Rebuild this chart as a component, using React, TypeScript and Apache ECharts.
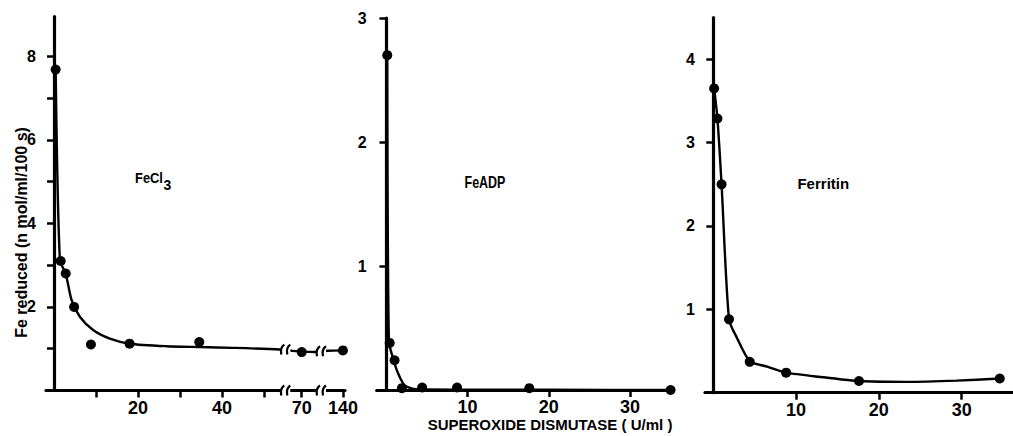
import React, { useEffect, useRef } from 'react';
import * as echarts from 'echarts';

const FONT = '"Liberation Sans", Arial, Helvetica, sans-serif';

// ---- Panel 1: FeCl3 (x axis broken after 50: 70 and 140 drawn compressed) ----
const fecl3X = [0.4, 1.6, 2.8, 4.8, 8.8, 18, 34.6, 70, 140];
const fecl3Y = [7.68, 3.1, 2.8, 2.0, 1.1, 1.12, 1.16, 0.92, 0.96];
const fecl3CurveX = [0.4, 1.4, 2.8, 4.2, 6.2, 9.4, 13.3, 18, 26.8, 34.8, 42.7, 53.8, 62.3, 70, 80, 128, 140];
const fecl3CurveY = [7.68, 3.13, 2.79, 2.16, 1.76, 1.44, 1.24, 1.12, 1.06, 1.04, 1.02, 0.98, 0.95, 0.93, 0.92, 0.95, 0.96];
const fecl3TickValues = [10, 20, 30, 40, 50, 70, 140];
const fecl3LabelValues = [20, 40, 70, 140];
const fecl3YTicks = [1, 2, 3, 4, 5, 6, 7, 8];
const fecl3YLabels = [2, 4, 6, 8];
const fecl3BreakPositions = [55.2, 63.7]; // axis positions of the "//" marks
const fecl3BreakLineY = [0.98, 0.94];

// ---- Panel 2: FeADP ----
const adpX = [0.1, 0.4, 1.0, 1.9, 4.4, 8.7, 17.6, 35];
const adpY = [2.7, 0.38, 0.24, 0.015, 0.02, 0.02, 0.015, 0.0];
const adpCurveX = [0.1, 0.3, 0.8, 1.2, 1.6, 2.2, 2.8, 3.7, 10, 20, 35];
const adpCurveY = [2.7, 0.39, 0.26, 0.175, 0.11, 0.04, 0.02, 0.006, 0.003, 0.002, 0.0];
const adpXTicks = [10, 20, 30];
const adpYTicks = [1, 2, 3];

// ---- Panel 3: Ferritin ----
const ferX = [0.1, 0.5, 1.0, 1.9, 4.4, 8.8, 17.6, 34.6];
const ferY = [3.65, 3.29, 2.5, 0.88, 0.37, 0.24, 0.14, 0.17];
const ferCurveX = [0.1, 0.5, 1.0, 1.9, 2.8, 4.4, 6.6, 8.8, 13.3, 17.6, 23.4, 29.4, 34.6];
const ferCurveY = [3.65, 3.29, 2.5, 0.88, 0.67, 0.38, 0.31, 0.24, 0.185, 0.14, 0.13, 0.145, 0.17];
const ferXTicks = [10, 20, 30];
const ferYTicks = [1, 2, 3, 4];

const yAxisName = 'Fe reduced (n mol/ml/100 s)';
const xAxisName = 'SUPEROXIDE DISMUTASE ( U/ml )';

// broken-axis mapping for panel 1
const mapBroken = (v: number) =>
  v <= 55 ? v : v <= 100 ? 59 + (v - 70) * 0.3 : 68.8 + (v - 140) * 0.3;

const zip = (xs: number[], ys: number[], f: (v: number) => number = (v) => v) =>
  xs.map((x, i) => [f(x), ys[i]]);

const BLACK = '#000000';

function xAx(gridIndex: number, min: number, max: number, ticks: number[], labels: number[], fmt?: (v: number) => string) {
  return {
    type: 'value',
    gridIndex,
    min,
    max,
    splitLine: { show: false },
    axisLine: { show: true, onZero: true, lineStyle: { color: BLACK, width: 3.2 } },
    axisTick: { show: true, length: 7, customValues: ticks, lineStyle: { color: BLACK, width: 2.5 } },
    axisLabel: {
      show: true,
      customValues: labels,
      formatter: fmt || ((v: number) => String(v)),
      margin: 8,
      color: BLACK,
      fontSize: 18,
      fontWeight: 'bold',
      fontFamily: FONT,
    },
  };
}

function yAx(gridIndex: number, max: number, ticks: number[], labels: number[]) {
  return {
    type: 'value',
    gridIndex,
    min: 0,
    max,
    splitLine: { show: false },
    axisLine: { show: true, onZero: true, lineStyle: { color: BLACK, width: 3.2 } },
    axisTick: { show: true, length: 7, customValues: ticks, lineStyle: { color: BLACK, width: 2.5 } },
    axisLabel: {
      show: true,
      customValues: labels,
      formatter: (v: number) => String(v),
      margin: 10,
      color: BLACK,
      fontSize: 16,
      fontWeight: 'bold',
      fontFamily: FONT,
    },
  };
}

function curve(idx: number, data: number[][]) {
  return {
    type: 'line',
    xAxisIndex: idx,
    yAxisIndex: idx,
    data,
    smooth: 0.25,
    symbol: 'none',
    lineStyle: { color: BLACK, width: 2.4, opacity: 1 },
    silent: true,
    z: 3,
  };
}

function dots(idx: number, data: number[][]) {
  return {
    type: 'scatter',
    xAxisIndex: idx,
    yAxisIndex: idx,
    data,
    symbol: 'circle',
    symbolSize: 10,
    itemStyle: { color: BLACK, opacity: 1 },
    silent: true,
    z: 4,
  };
}

const renderBreak = (_params: any, api: any) => {
  const p = api.coord([api.value(0), api.value(1)]);
  const cx = p[0];
  const cy = p[1];
  const mk = (dx: number) => ({
    type: 'bezierCurve',
    shape: {
      x1: cx + dx - 1.5,
      y1: cy + 5,
      x2: cx + dx + 1.5,
      y2: cy - 5,
      cpx1: cx + dx - 3,
      cpy1: cy - 2,
    },
    style: { stroke: BLACK, lineWidth: 2.2, fill: 'none' },
  });
  return {
    type: 'group',
    children: [
      { type: 'rect', shape: { x: cx - 4.5, y: cy - 3.5, width: 9, height: 7 }, style: { fill: '#fff' } },
      mk(-3),
      mk(3),
    ],
  };
};

function txt(text: string, x: number, y: number, size: number, extra: any = {}) {
  return {
    type: 'text',
    x,
    y,
    silent: true,
    ...extra,
    style: {
      text,
      fill: BLACK,
      fontSize: size,
      fontWeight: 'bold',
      fontFamily: FONT,
      align: 'center',
      verticalAlign: 'middle',
      textAlign: 'center',
      textVerticalAlign: 'middle',
    },
  };
}

export default function App() {
  const ref = useRef<HTMLDivElement>(null);
  useEffect(() => {
    if (!ref.current) return;
    const chart = echarts.init(ref.current, null, { renderer: 'svg' });
    const brokenLabel = (v: number) => {
      const hit = fecl3LabelValues.find((l) => Math.abs(mapBroken(l) - v) < 0.01);
      return hit !== undefined ? String(hit) : '';
    };
    const breakData: number[][] = [];
    fecl3BreakPositions.forEach((p, i) => {
      breakData.push([p, 0]);
      breakData.push([p, fecl3BreakLineY[i]]);
    });
    const option: any = {
      animation: false,
      backgroundColor: '#fff',
      grid: [
        { left: 46, top: 16.5, width: 299, height: 374 },
        { left: 376.7, top: 18, width: 296.3, height: 372 },
        { left: 705, top: 17.6, width: 308, height: 375.1 },
      ],
      xAxis: [
        xAx(0, -1.9, 69.3, fecl3TickValues.map(mapBroken), fecl3LabelValues.map(mapBroken), brokenLabel),
        xAx(1, -1.2, 35.3, adpXTicks, adpXTicks),
        xAx(2, -1.0, 36.2, ferXTicks, ferXTicks),
      ],
      yAxis: [
        yAx(0, 8.95, fecl3YTicks, fecl3YLabels),
        yAx(1, 3, adpYTicks, adpYTicks),
        yAx(2, 4.5, ferYTicks, ferYTicks),
      ],
      series: [
        curve(0, zip(fecl3CurveX, fecl3CurveY, mapBroken)),
        dots(0, zip(fecl3X, fecl3Y, mapBroken)),
        {
          type: 'custom',
          xAxisIndex: 0,
          yAxisIndex: 0,
          coordinateSystem: 'cartesian2d',
          renderItem: renderBreak,
          data: breakData,
          silent: true,
          clip: false,
          z: 5,
        },
        curve(1, zip(adpCurveX, adpCurveY)),
        dots(1, zip(adpX, adpY)),
        curve(2, zip(ferCurveX, ferCurveY)),
        dots(2, zip(ferX, ferY)),
      ],
      graphic: [
        txt(yAxisName, 21, 232.5, 16, { rotation: Math.PI / 2 }),
        txt('FeCl', 149, 178, 15, { scaleX: 0.86 }),
        txt('3', 167.5, 184.5, 14),
        txt('FeADP', 485, 182.5, 16, { scaleX: 0.78 }),
        txt('Ferritin', 823.3, 183.5, 15),
        txt(xAxisName, 550, 424.5, 15),
      ],
    };
    chart.setOption(option);
    return () => chart.dispose();
  }, []);
  return (
    <div
      ref={ref}
      style={{ position: 'absolute', left: 0, top: 0, width: 1013, height: 436, background: '#fff' }}
    />
  );
}
